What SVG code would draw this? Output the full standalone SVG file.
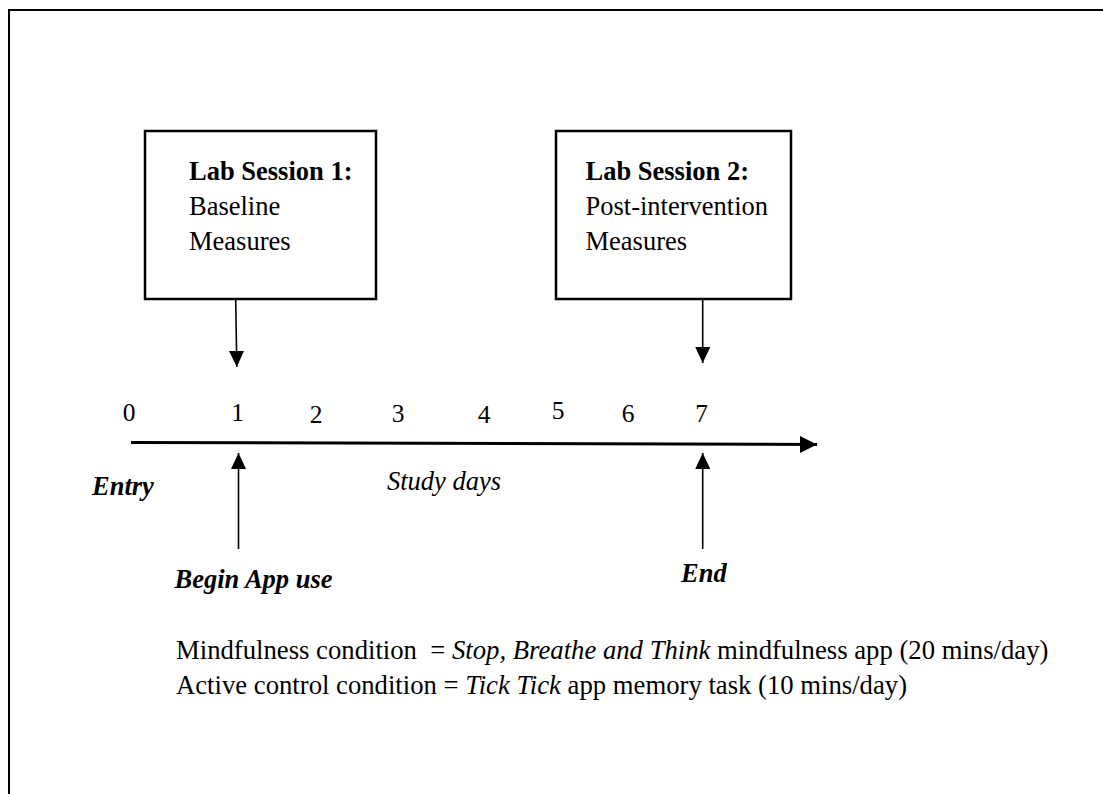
<svg xmlns="http://www.w3.org/2000/svg" width="1103" height="794" viewBox="0 0 1103 794">
  <style>
    text { font-family: "Liberation Serif", "Times New Roman", serif; fill: #000; }
    .box { fill: #fff; stroke: #000; stroke-width: 2.5; }
    .t { font-size: 26.5px; }
    .lg { font-size: 26.7px; white-space: pre; }
    .b { font-weight: bold; }
    .i { font-style: italic; }
    .bi { font-weight: bold; font-style: italic; }
    .num { font-size: 25.5px; }
    .conn { stroke: #000; stroke-width: 1.6; fill: none; }
    .axis { stroke: #000; stroke-width: 3; fill: none; }
  </style>
  <defs>
    <marker id="ah" viewBox="0 0 16 16" refX="16" refY="8" markerWidth="16" markerHeight="15" markerUnits="userSpaceOnUse" orient="auto" preserveAspectRatio="none">
      <path d="M0,0 L16,8 L0,16 z" fill="#000"/>
    </marker>
    <marker id="ahBig" viewBox="0 0 16 16" refX="16" refY="8" markerWidth="17" markerHeight="17" markerUnits="userSpaceOnUse" orient="auto" preserveAspectRatio="none">
      <path d="M0,0 L16,8 L0,16 z" fill="#000"/>
    </marker>
  </defs>
  <rect width="1103" height="794" fill="#fff"/>
  <path d="M9,794 V10 H1103" fill="none" stroke="#000" stroke-width="2"/>

  <g id="lab1">
    <rect class="box" x="145" y="131" width="231" height="168"/>
    <text class="t b" x="189" y="180">Lab Session 1:</text>
    <text class="t" x="189" y="215">Baseline</text>
    <text class="t" x="189" y="250">Measures</text>
  </g>

  <g id="lab2">
    <rect class="box" x="556" y="131" width="235" height="168"/>
    <text class="t b" x="585.5" y="180">Lab Session 2:</text>
    <text class="t" x="585.5" y="215">Post-intervention</text>
    <text class="t" x="585.5" y="250">Measures</text>
  </g>

  <g id="days">
    <text class="num" x="129" y="421" text-anchor="middle">0</text>
    <text class="num" x="237.5" y="421" text-anchor="middle">1</text>
    <text class="num" x="316" y="423" text-anchor="middle">2</text>
    <text class="num" x="398" y="422" text-anchor="middle">3</text>
    <text class="num" x="484" y="423" text-anchor="middle">4</text>
    <text class="num" x="558" y="419" text-anchor="middle">5</text>
    <text class="num" x="628" y="422" text-anchor="middle">6</text>
    <text class="num" x="701.5" y="422" text-anchor="middle">7</text>
  </g>

  <g id="entry"><text class="t bi" x="92" y="495">Entry</text></g>
  <g id="study-days"><text class="t i" x="387" y="490">Study days</text></g>
  <g id="begin"><text class="t bi" x="174.5" y="588">Begin App use</text></g>
  <g id="end"><text class="t bi" x="681" y="582">End</text></g>

  <g id="legend">
    <text class="lg" x="176" y="659">Mindfulness condition  = <tspan class="i">Stop, Breathe and Think</tspan> mindfulness app (20 mins/day)</text>
    <text class="lg" x="176" y="694">Active control condition = <tspan class="i">Tick Tick</tspan> app memory task (10 mins/day)</text>
  </g>

  <g id="connectors">
    <line class="axis" x1="131" y1="442.5" x2="817" y2="444.5" marker-end="url(#ahBig)"/>
    <line class="conn" x1="235.7" y1="299" x2="236.8" y2="367" marker-end="url(#ah)"/>
    <line class="conn" x1="702.7" y1="299" x2="702.7" y2="363" marker-end="url(#ah)"/>
    <line class="conn" x1="238.5" y1="549" x2="238.5" y2="453" marker-end="url(#ah)"/>
    <line class="conn" x1="702.7" y1="549" x2="702.7" y2="453" marker-end="url(#ah)"/>
  </g>
</svg>
